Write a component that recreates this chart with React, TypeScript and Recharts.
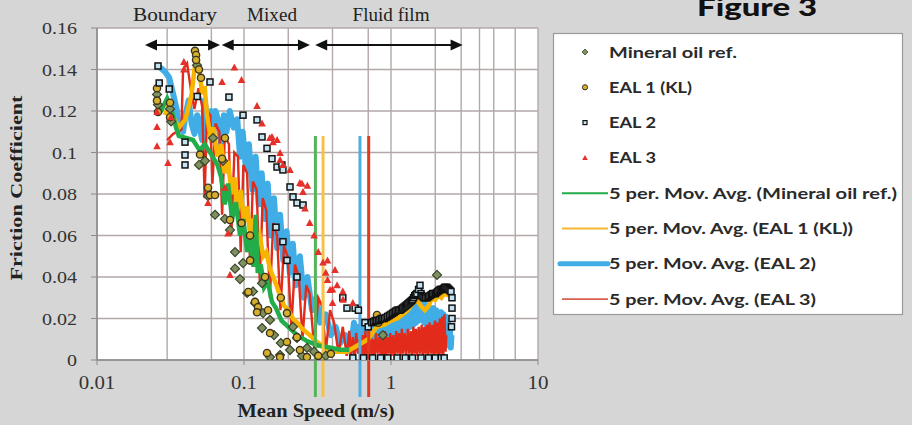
import React from 'react';
import { ComposedChart, Scatter, Line, XAxis, YAxis, CartesianGrid, ReferenceLine, ReferenceDot } from 'recharts';

const xTicks = [0.01, 0.1, 1, 10];
const xTickLabels = ['0.01', '0.1', '1', '10'];
const yTicks = [0, 0.02, 0.04, 0.06, 0.08, 0.1, 0.12, 0.14, 0.16];
const yTickLabels = ['0', '0.02', '0.04', '0.06', '0.08', '0.1', '0.12', '0.14', '0.16'];
const gridXs = [0.02, 0.03, 0.04, 0.05, 0.06, 0.07, 0.08, 0.09, 0.1, 0.2, 0.3, 0.4, 0.5, 0.6, 0.7, 0.8, 0.9, 1, 2, 3, 4, 5, 6, 7, 8, 9, 10];

const seriesNames = ['Mineral oil ref.', 'EAL 1 (KL)', 'EAL 2', 'EAL 3'];
const maNames = ['5 per. Mov. Avg. (Mineral oil ref.)', '5 per. Mov. Avg. (EAL 1 (KL))', '5 per. Mov. Avg. (EAL 2)', '5 per. Mov. Avg. (EAL 3)'];

const regimeLabels = ['Boundary', 'Mixed', 'Fluid film'];
const regimeLabelX = [0.0339, 0.155, 1.0];
const regimeArrows = [[0.0212, 0.0687], [0.0705, 0.281], [0.305, 3.07]];
const arrowY = 0.1518;
const labelY = 0.1663;

// vertical marker lines: x position, top, bottom
const markerXs = [0.306, 0.345, 0.615, 0.705];
const markerTop = 0.108;
const markerBottom = -0.0178;

const mineralPts = [
  [0.0256, 0.128], [0.0314, 0.121], [0.0319, 0.115], [0.0260, 0.123],
  [0.0479, 0.142], [0.0494, 0.094], [0.0543, 0.096], [0.0615, 0.107], [0.072, 0.096],
  [0.0569, 0.079], [0.0635, 0.070], [0.0742, 0.068], [0.0803, 0.0627], [0.0869, 0.052], [0.0869, 0.044], [0.0985, 0.0467],
  [0.105, 0.0323], [0.1188, 0.0275], [0.1326, 0.037], [0.1347, 0.0226], [0.1326, 0.0154], [0.1503, 0.0193], [0.1503, 0.0014],
  [0.1758, 0.0024], [0.178, 0.0082], [0.2056, 0.0048], [0.2154, 0.016], [0.2294, 0.0106], [0.2683, 0.0058], [0.0939, 0.039],
  [0.1151, 0.033], [0.16, 0.012], [0.248, 0.002], [0.30, 0.004], [0.36, 0.002], [2.056, 0.041], [0.88, 0.012],
];

const eal1Pts = [
  [0.0256, 0.131], [0.0256, 0.125], [0.026, 0.1195], [0.0314, 0.124], [0.0314, 0.117],
  [0.0464, 0.149], [0.0472, 0.147], [0.0472, 0.1446], [0.0494, 0.140], [0.051, 0.136],
  [0.0502, 0.099], [0.0742, 0.107], [0.0709, 0.097], [0.0569, 0.083], [0.0587, 0.0795], [0.0635, 0.0795],
  [0.0803, 0.0675], [0.0962, 0.066], [0.1099, 0.060], [0.107, 0.0328], [0.1188, 0.028], [0.1245, 0.0255],
  [0.1457, 0.024], [0.1503, 0.013], [0.1434, 0.0034], [0.1758, 0.0014], [0.196, 0.0087], [0.229, 0.011],
  [0.24, 0.0048], [0.268, 0.0014], [0.196, 0.0226], [0.11, 0.048], [0.1226, 0.023], [0.803, 0.0217],
  [0.82, 0.018], [0.32, 0.002], [0.39, 0.003], [0.178, 0.03], [0.139, 0.04],
];

const eal2Pts = [
  [0.026, 0.1417], [0.0265, 0.1335], [0.031, 0.1306], [0.0397, 0.105], [0.0397, 0.0988], [0.0397, 0.094],
  [0.048, 0.127], [0.0587, 0.134], [0.079, 0.1267], [0.0985, 0.118], [0.1226, 0.1157], [0.1326, 0.1075],
  [0.1434, 0.102], [0.155, 0.097], [0.1677, 0.093], [0.181, 0.094], [0.184, 0.0916], [0.2056, 0.0834],
  [0.2154, 0.0786], [0.2294, 0.0757], [0.252, 0.0747], [0.184, 0.057], [0.2294, 0.040], [0.196, 0.048],
  [0.165, 0.064], [0.47, 0.030], [0.502, 0.025], [0.57, 0.025], [0.60, 0.024], [0.665, 0.018], [0.70, 0.016],
  [0.74, 0.018], [0.76, 0.0185], [0.78, 0.019], [0.80, 0.019], [0.82, 0.019], [0.84, 0.0195], [0.86, 0.020],
  [0.88, 0.020], [0.90, 0.020], [0.925, 0.0205], [0.95, 0.021], [0.975, 0.0215], [1.00, 0.022], [1.025, 0.0225],
  [1.05, 0.023], [1.075, 0.0235], [1.10, 0.024], [1.125, 0.024], [1.15, 0.024], [1.175, 0.0245], [1.20, 0.025],
  [1.225, 0.0255], [1.25, 0.026], [1.275, 0.0265], [1.30, 0.027], [1.325, 0.0275], [1.35, 0.028], [1.375, 0.0285],
  [1.40, 0.029], [1.425, 0.030], [1.45, 0.031], [1.475, 0.0315], [1.50, 0.032], [1.54, 0.034], [1.575, 0.036],
  [1.60, 0.032], [1.62, 0.031], [1.65, 0.0305], [1.68, 0.030], [1.72, 0.030], [1.76, 0.030], [1.80, 0.0305],
  [1.84, 0.031], [1.88, 0.0315], [1.92, 0.032], [1.96, 0.032], [2.00, 0.032], [2.04, 0.0325], [2.08, 0.033],
  [2.12, 0.0335], [2.16, 0.034], [2.20, 0.034], [2.24, 0.034], [2.28, 0.0345], [2.32, 0.035], [2.36, 0.035],
  [2.40, 0.035], [2.44, 0.0345], [2.48, 0.034], [2.52, 0.0335], [2.56, 0.033], [2.60, 0.030], [2.60, 0.025],
  [2.60, 0.020], [2.58, 0.016],
  [0.55, 0.001], [0.65, 0.001], [0.75, 0.001], [0.85, 0.001], [0.95, 0.001], [1.1, 0.001], [1.25, 0.001],
  [1.4, 0.001], [1.6, 0.001], [1.8, 0.001], [2.0, 0.001], [2.2, 0.001], [2.3, 0.001],
];

const eal3Pts = [
  [0.0256, 0.1195], [0.0256, 0.1123], [0.0256, 0.103], [0.0304, 0.095], [0.0319, 0.117], [0.0314, 0.105],
  [0.039, 0.1436], [0.039, 0.140], [0.0709, 0.134], [0.086, 0.141], [0.0962, 0.135], [0.1226, 0.1224],
  [0.1326, 0.114], [0.15, 0.107], [0.155, 0.1075], [0.1575, 0.105], [0.168, 0.106], [0.176, 0.0998],
  [0.176, 0.0964], [0.184, 0.094], [0.2056, 0.0916], [0.24, 0.0853], [0.248, 0.085], [0.252, 0.081],
  [0.26, 0.073], [0.27, 0.084], [0.0569, 0.0757], [0.0742, 0.083], [0.0778, 0.061], [0.0803, 0.041],
  [0.3446, 0.047], [0.416, 0.0434], [0.385, 0.0337], [0.4715, 0.029], [0.40, 0.0275], [0.47, 0.033],
  [0.43, 0.036], [0.37, 0.0386], [0.55, 0.0275], [0.30, 0.060], [0.32, 0.052], [0.28, 0.066], [0.36, 0.042],
  [0.37, 0.048], [0.40, 0.034],
];

const greenMA = [
  [0.0268, 0.119], [0.030, 0.126], [0.032, 0.121], [0.0345, 0.112], [0.036, 0.108], [0.045, 0.106],
  [0.050, 0.101], [0.054, 0.104], [0.060, 0.099], [0.066, 0.094], [0.070, 0.088], [0.074, 0.075],
  [0.078, 0.085], [0.083, 0.068], [0.088, 0.076], [0.094, 0.060], [0.099, 0.068], [0.105, 0.052],
  [0.110, 0.058], [0.116, 0.045], [0.120, 0.070], [0.124, 0.042], [0.130, 0.046], [0.137, 0.035],
  [0.145, 0.038], [0.155, 0.028], [0.165, 0.025], [0.18, 0.019], [0.20, 0.016], [0.23, 0.012],
  [0.27, 0.009], [0.32, 0.007], [0.38, 0.006], [0.45, 0.005], [0.52, 0.005],
];

const yellowMA = [
  [0.029, 0.118], [0.031, 0.123], [0.033, 0.117], [0.036, 0.112], [0.040, 0.116], [0.044, 0.128],
  [0.046, 0.140], [0.048, 0.146], [0.050, 0.138], [0.052, 0.128], [0.054, 0.132], [0.056, 0.118],
  [0.059, 0.108], [0.062, 0.112], [0.066, 0.098], [0.070, 0.104], [0.074, 0.090], [0.078, 0.096],
  [0.082, 0.080], [0.086, 0.088], [0.090, 0.072], [0.095, 0.082], [0.100, 0.066], [0.105, 0.074],
  [0.110, 0.062], [0.116, 0.068], [0.122, 0.056], [0.128, 0.060], [0.135, 0.050], [0.142, 0.052],
  [0.150, 0.044], [0.158, 0.040], [0.166, 0.036], [0.176, 0.031], [0.188, 0.026], [0.200, 0.024],
  [0.215, 0.020], [0.23, 0.018], [0.25, 0.015], [0.28, 0.012], [0.31, 0.009], [0.34, 0.007],
  [0.37, 0.005], [0.42, 0.004], [0.50, 0.004], [0.70, 0.010], [0.80, 0.016], [0.90, 0.017],
  [1.0, 0.019], [1.1, 0.020], [1.2, 0.022], [1.3, 0.024], [1.4, 0.027], [1.5, 0.029], [1.6, 0.026],
  [1.7, 0.024], [1.8, 0.026], [1.9, 0.030], [2.0, 0.029], [2.1, 0.031], [2.2, 0.030], [2.3, 0.032], [2.5, 0.031],
];

const blueMA = [
  [0.0268, 0.141], [0.029, 0.139], [0.031, 0.136], [0.033, 0.128], [0.035, 0.120], [0.036, 0.112],
  [0.0385, 0.110], [0.040, 0.118], [0.042, 0.125], [0.044, 0.114], [0.046, 0.109], [0.048, 0.118],
  [0.050, 0.112], [0.052, 0.106], [0.054, 0.125], [0.056, 0.118], [0.058, 0.110], [0.060, 0.120],
  [0.062, 0.112], [0.064, 0.120], [0.067, 0.115], [0.070, 0.104], [0.073, 0.118], [0.076, 0.110],
  [0.080, 0.120], [0.085, 0.112], [0.090, 0.116], [0.094, 0.098], [0.098, 0.110], [0.103, 0.092],
  [0.108, 0.104], [0.114, 0.082], [0.12, 0.098], [0.126, 0.075], [0.132, 0.090], [0.138, 0.068],
  [0.145, 0.085], [0.152, 0.060], [0.16, 0.078], [0.168, 0.054], [0.176, 0.070], [0.185, 0.048],
  [0.195, 0.062], [0.205, 0.042], [0.215, 0.056], [0.225, 0.036], [0.24, 0.050], [0.255, 0.030],
  [0.27, 0.040], [0.29, 0.024], [0.31, 0.030], [0.33, 0.018], [0.36, 0.022], [0.39, 0.012],
  [0.42, 0.016], [0.45, 0.008], [0.49, 0.012], [0.53, 0.004], [0.56, 0.018], [0.58, 0.006],
  [0.60, 0.016], [0.62, 0.005], [0.64, 0.017], [0.66, 0.004], [0.68, 0.015], [0.70, 0.006],
  [0.72, 0.017], [0.74, 0.008], [0.76, 0.018], [0.78, 0.009], [0.80, 0.019], [0.82, 0.010],
  [0.845, 0.019], [0.87, 0.011], [0.895, 0.020], [0.92, 0.011], [0.945, 0.020], [0.97, 0.012],
  [0.995, 0.021], [1.02, 0.012], [1.045, 0.021], [1.07, 0.013], [1.095, 0.022], [1.12, 0.013],
  [1.15, 0.023], [1.18, 0.014], [1.21, 0.023], [1.24, 0.014], [1.27, 0.024], [1.30, 0.015],
  [1.33, 0.026], [1.36, 0.016], [1.39, 0.028], [1.42, 0.017], [1.45, 0.031], [1.48, 0.018],
  [1.51, 0.033], [1.54, 0.019], [1.575, 0.035], [1.61, 0.020], [1.645, 0.028], [1.68, 0.018],
  [1.715, 0.027], [1.75, 0.017], [1.79, 0.026], [1.83, 0.016], [1.87, 0.025], [1.91, 0.016],
  [1.95, 0.025], [1.99, 0.015], [2.03, 0.024], [2.07, 0.015], [2.11, 0.023], [2.15, 0.014],
  [2.19, 0.023], [2.23, 0.012], [2.27, 0.022], [2.31, 0.010], [2.35, 0.021], [2.39, 0.008],
  [2.43, 0.019], [2.47, 0.007], [2.51, 0.016], [2.55, 0.006], [2.58, 0.012],
];

const redMA = [
  [0.030, 0.106], [0.033, 0.109], [0.0375, 0.111], [0.0385, 0.140], [0.041, 0.143], [0.044, 0.128],
  [0.046, 0.121], [0.049, 0.131], [0.052, 0.122], [0.054, 0.078], [0.056, 0.120], [0.059, 0.118],
  [0.061, 0.085], [0.064, 0.114], [0.068, 0.110], [0.071, 0.070], [0.074, 0.108], [0.079, 0.104],
  [0.082, 0.060], [0.086, 0.100], [0.091, 0.098], [0.095, 0.052], [0.099, 0.094], [0.105, 0.090],
  [0.11, 0.046], [0.115, 0.086], [0.122, 0.082], [0.128, 0.038], [0.134, 0.078], [0.142, 0.072],
  [0.15, 0.030], [0.158, 0.066], [0.168, 0.060], [0.177, 0.024], [0.187, 0.055], [0.198, 0.050],
  [0.21, 0.016], [0.222, 0.046], [0.236, 0.040], [0.25, 0.010], [0.265, 0.036], [0.28, 0.032],
  [0.30, 0.006], [0.32, 0.030], [0.34, 0.026], [0.36, 0.004], [0.385, 0.024], [0.41, 0.018],
  [0.44, 0.003], [0.47, 0.016], [0.50, 0.002], [0.52, 0.014], [0.535, 0.002], [0.55, 0.011], [0.565, 0.001],
  [0.58, 0.013], [0.595, 0.003], [0.61, 0.010], [0.625, 0.001], [0.64, 0.012], [0.655, 0.002],
  [0.67, 0.014], [0.685, 0.001], [0.70, 0.011], [0.715, 0.003], [0.73, 0.012], [0.745, 0.001],
  [0.76, 0.010], [0.775, 0.002], [0.79, 0.013], [0.81, 0.003], [0.83, 0.011], [0.85, 0.002],
  [0.87, 0.012], [0.89, 0.001], [0.91, 0.014], [0.93, 0.002], [0.95, 0.011], [0.97, 0.003],
  [0.99, 0.013], [1.01, 0.002], [1.035, 0.012], [1.06, 0.001], [1.085, 0.014], [1.11, 0.003],
  [1.135, 0.013], [1.16, 0.002], [1.185, 0.015], [1.21, 0.003], [1.24, 0.013], [1.27, 0.002],
  [1.30, 0.015], [1.33, 0.003], [1.36, 0.014], [1.39, 0.002], [1.42, 0.016], [1.45, 0.003],
  [1.48, 0.015], [1.51, 0.002], [1.545, 0.016], [1.58, 0.003], [1.615, 0.017], [1.65, 0.002],
  [1.685, 0.016], [1.72, 0.003], [1.755, 0.017], [1.79, 0.002], [1.83, 0.018], [1.87, 0.003],
  [1.91, 0.017], [1.95, 0.002], [1.99, 0.019], [2.03, 0.003], [2.07, 0.018], [2.11, 0.002],
  [2.15, 0.020], [2.19, 0.003], [2.23, 0.021], [2.27, 0.002], [2.31, 0.022], [2.35, 0.004], [2.38, 0.012],
];

const toPts = (a: number[][]) => a.map(([x, y]) => ({ x, y }));

const C = {
  bg: '#d6d6d6',
  grid: '#b3a8a8',
  axis: '#8a8a8a',
  mineralFill: '#7f9160',
  mineralStroke: '#3b4628',
  eal1Fill: '#d6b02c',
  eal1Stroke: '#3a3320',
  eal2Fill: '#c4e4f2',
  eal2Stroke: '#111111',
  eal3: '#e5312a',
  green: '#22ad4a',
  yellow: '#f7b500',
  blue: '#41ade6',
  red: '#e22b1b',
  vGreen: '#55b45a',
  vYellow: '#f4c246',
  vBlue: '#4eaee3',
  vRed: '#e23a22',
};
const markerColors = [C.vGreen, C.vYellow, C.vBlue, C.vRed];

const Diamond = (p: any) => (
  <polygon points={`${p.cx},${p.cy - 4.5} ${p.cx + 4.5},${p.cy} ${p.cx},${p.cy + 4.5} ${p.cx - 4.5},${p.cy}`} fill={C.mineralFill} stroke={C.mineralStroke} strokeWidth={1.2} />
);
const Circ = (p: any) => <circle cx={p.cx} cy={p.cy} r={3.6} fill={C.eal1Fill} stroke={C.eal1Stroke} strokeWidth={1.4} />;
const Sq = (p: any) => <rect x={p.cx - 3} y={p.cy - 3} width={6} height={6} fill={C.eal2Fill} stroke={C.eal2Stroke} strokeWidth={1.5} />;
const Tri = (p: any) => <polygon points={`${p.cx},${p.cy - 4} ${p.cx + 3.8},${p.cy + 3} ${p.cx - 3.8},${p.cy + 3}`} fill={C.eal3} />;

const serif = '"Liberation Serif", "Times New Roman", serif';
const sans = 'Lato, "Open Sans", sans-serif';

const charW = (s: string, d: number, p: number) => s.split('').reduce((a, c) => a + (c === '.' ? p : d), 0);

const YTick = (props: any) => {
  const { x, y, payload } = props;
  const i = yTicks.indexOf(payload.value);
  const s = i >= 0 ? yTickLabels[i] : String(payload.value);
  return (
    <text x={x} y={y + 6} textAnchor="end" fontFamily={serif} fontSize={17} fill="#333" textLength={charW(s, 10, 5)} lengthAdjust="spacingAndGlyphs">
      {s}
    </text>
  );
};
const XTick = (props: any) => {
  const { x, y, payload } = props;
  const i = xTicks.indexOf(payload.value);
  const s = i >= 0 ? xTickLabels[i] : String(payload.value);
  return (
    <text x={x} y={y + 22} textAnchor="middle" fontFamily={serif} fontSize={18} fill="#333" textLength={charW(s, 10.5, 5)} lengthAdjust="spacingAndGlyphs">
      {s}
    </text>
  );
};

const Arrow = (p: any) => {
  const { x1, y1, x2 } = p;
  const h = 12;
  return (
    <g>
      <line x1={x1 + 4} y1={y1} x2={x2 - 4} y2={y1} stroke="#111" strokeWidth={2} />
      <polygon points={`${x1},${y1} ${x1 + h},${y1 - 5.5} ${x1 + h},${y1 + 5.5}`} fill="#111" />
      <polygon points={`${x2},${y1} ${x2 - h},${y1 - 5.5} ${x2 - h},${y1 + 5.5}`} fill="#111" />
    </g>
  );
};

const regimeLens = [84, 50, 77];
const makeRegimeLabel = (i: number) => (p: any) => (
  <text x={p.cx} y={p.cy + 6} textAnchor="middle" fontFamily={serif} fontSize={18} fill="#222" textLength={regimeLens[i]} lengthAdjust="spacingAndGlyphs">
    {regimeLabels[i]}
  </text>
);

const legendTextLens = [128, 83, 47, 47, 288, 244, 207, 207];

const Legend = () => {
  const rowY = (i: number) => 52 + i * 35.3;
  const mx = 585;
  const items = [
    <polygon key="m0" points={`${mx},${rowY(0) - 3} ${mx + 3},${rowY(0)} ${mx},${rowY(0) + 3} ${mx - 3},${rowY(0)}`} fill={C.mineralFill} stroke={C.mineralStroke} strokeWidth={0.8} />,
    <circle key="m1" cx={mx} cy={rowY(1)} r={2.6} fill={C.eal1Fill} stroke={C.eal1Stroke} strokeWidth={1} />,
    <rect key="m2" x={mx - 2} y={rowY(2) - 2} width={4} height={4} fill={C.eal2Fill} stroke={C.eal2Stroke} strokeWidth={1.2} />,
    <polygon key="m3" points={`${mx},${rowY(3) - 3} ${mx + 2.8},${rowY(3) + 2} ${mx - 2.8},${rowY(3) + 2}`} fill={C.eal3} />,
    <line key="m4" x1={562} x2={608} y1={rowY(4)} y2={rowY(4)} stroke={C.green} strokeWidth={2} />,
    <line key="m5" x1={562} x2={608} y1={rowY(5)} y2={rowY(5)} stroke="#f3b830" strokeWidth={2} />,
    <line key="m6" x1={560} x2={608} y1={rowY(6)} y2={rowY(6)} stroke={C.blue} strokeWidth={5} strokeLinecap="round" />,
    <line key="m7" x1={562} x2={608} y1={rowY(7)} y2={rowY(7)} stroke="#d8604e" strokeWidth={1.6} />,
  ];
  const labels = [...seriesNames, ...maNames];
  return (
    <g>
      <rect x={553.5} y={33.5} width={349} height={281} fill="#ffffff" stroke="#9a9a9a" strokeWidth={1.2} />
      {items}
      {labels.map((s, i) => (
        <text key={s} x={609} y={rowY(i) + 5.5} fontFamily={sans} fontWeight={700} fontSize={16} fill="#2a2a2a" textLength={legendTextLens[i]} lengthAdjust="spacingAndGlyphs">
          {s}
        </text>
      ))}
    </g>
  );
};

export default function App() {
  return (
    <div style={{ position: 'absolute', left: 0, top: 0, width: 912, height: 425, background: C.bg, overflow: 'hidden' }}>
      <ComposedChart width={912} height={425} margin={{ top: 28, right: 374, bottom: 35, left: 0 }}>
        <XAxis xAxisId="grid" hide orientation="top" height={0} type="number" dataKey="x" scale="log" domain={[0.01, 10]} ticks={gridXs} allowDataOverflow />
        <CartesianGrid xAxisId="grid" yAxisId="main" stroke={C.grid} strokeWidth={1.4} fill="#ffffff" />
        <XAxis
          xAxisId="main"
          type="number"
          dataKey="x"
          scale="log"
          domain={[0.01, 10]}
          ticks={xTicks}
          allowDataOverflow
          height={30}
          tick={<XTick />}
          tickSize={5}
          tickLine={{ stroke: C.axis }}
          axisLine={{ stroke: C.axis, strokeWidth: 1.5 }}
        />
        <YAxis
          yAxisId="main"
          type="number"
          dataKey="y"
          domain={[0, 0.16]}
          ticks={yTicks}
          allowDataOverflow
          width={97}
          tick={<YTick />}
          tickSize={6}
          tickMargin={14}
          tickLine={{ stroke: C.axis }}
          axisLine={{ stroke: C.axis, strokeWidth: 1.5 }}
        />
        <Line xAxisId="main" yAxisId="main" data={toPts(blueMA)} dataKey="y" stroke={C.blue} strokeWidth={6} dot={false} activeDot={false} type="linear" isAnimationActive={false} strokeLinejoin="round" />
        <Line xAxisId="main" yAxisId="main" data={toPts(redMA)} dataKey="y" stroke={C.red} strokeWidth={2.4} dot={false} activeDot={false} type="linear" isAnimationActive={false} />
        <Line xAxisId="main" yAxisId="main" data={toPts(yellowMA)} dataKey="y" stroke={C.yellow} strokeWidth={4.5} dot={false} activeDot={false} type="linear" isAnimationActive={false} />
        <Line xAxisId="main" yAxisId="main" data={toPts(greenMA)} dataKey="y" stroke={C.green} strokeWidth={4.5} dot={false} activeDot={false} type="linear" isAnimationActive={false} />
        <Scatter xAxisId="main" yAxisId="main" name={seriesNames[0]} data={toPts(mineralPts)} dataKey="y" shape={Diamond} isAnimationActive={false} />
        <Scatter xAxisId="main" yAxisId="main" name={seriesNames[1]} data={toPts(eal1Pts)} dataKey="y" shape={Circ} isAnimationActive={false} />
        <Scatter xAxisId="main" yAxisId="main" name={seriesNames[2]} data={toPts(eal2Pts)} dataKey="y" shape={Sq} isAnimationActive={false} />
        <Scatter xAxisId="main" yAxisId="main" name={seriesNames[3]} data={toPts(eal3Pts)} dataKey="y" shape={Tri} isAnimationActive={false} />
        {markerXs.map((mx, i) => (
          <ReferenceLine
            key={'v' + i}
            xAxisId="main"
            yAxisId="main"
            segment={[{ x: mx, y: markerTop }, { x: mx, y: markerBottom }]}
            stroke={markerColors[i]}
            strokeWidth={3}
            ifOverflow="visible"
          />
        ))}
        {regimeArrows.map((a, i) => (
          <ReferenceLine
            key={'a' + i}
            xAxisId="main"
            yAxisId="main"
            segment={[{ x: a[0], y: arrowY }, { x: a[1], y: arrowY }]}
            ifOverflow="visible"
            shape={Arrow}
          />
        ))}
        {regimeLabels.map((s, i) => (
          <ReferenceDot key={s} xAxisId="main" yAxisId="main" x={regimeLabelX[i]} y={labelY} ifOverflow="visible" shape={makeRegimeLabel(i)} />
        ))}
      </ComposedChart>
      <svg width={912} height={425} style={{ position: 'absolute', left: 0, top: 0, pointerEvents: 'none' }}>
        <text x={0} y={0} transform="translate(22,188) rotate(-90)" textAnchor="middle" fontFamily={serif} fontWeight={700} fontSize={17} fill="#222" textLength={185} lengthAdjust="spacingAndGlyphs">
          Friction Coefficient
        </text>
        <text x={316} y={417} textAnchor="middle" fontFamily={serif} fontWeight={700} fontSize={19} fill="#222" textLength={157} lengthAdjust="spacingAndGlyphs">
          Mean Speed (m/s)
        </text>
        <text x={697} y={16} fontFamily={sans} fontWeight={900} fontSize={25} fill="#111" textLength={120} lengthAdjust="spacingAndGlyphs">
          Figure 3
        </text>
        <Legend />
      </svg>
    </div>
  );
}
